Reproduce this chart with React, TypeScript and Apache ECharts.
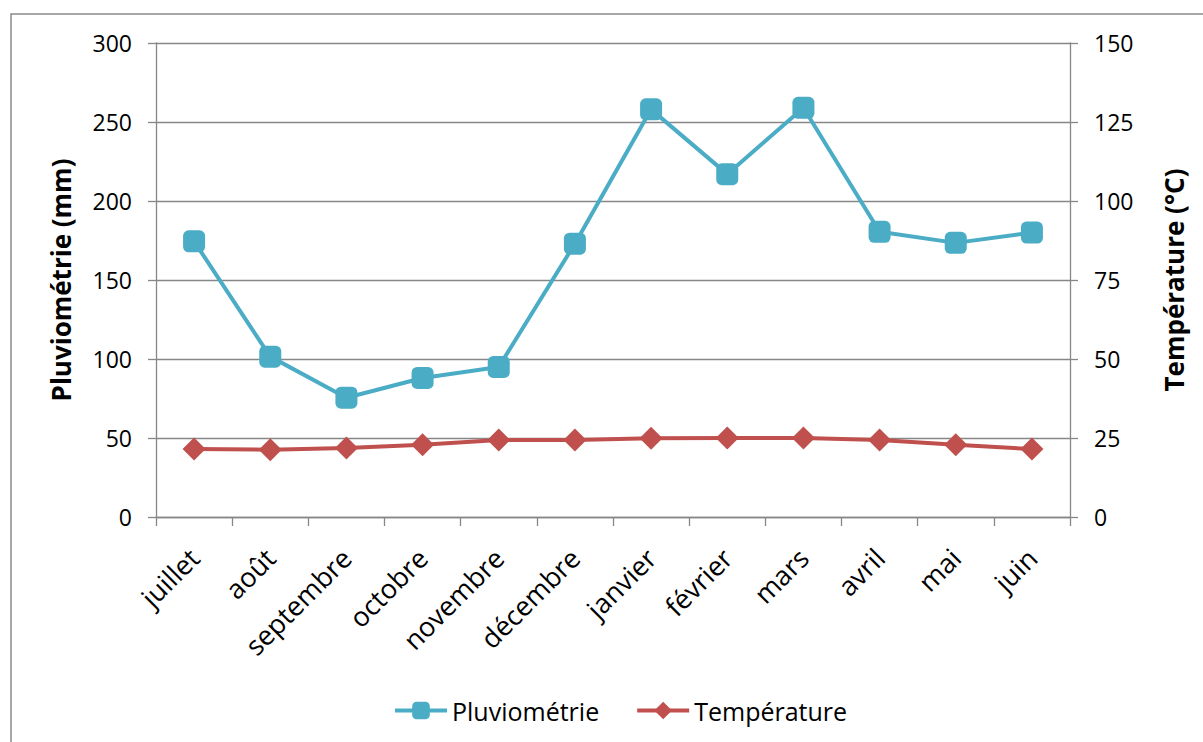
import React, { useEffect, useRef } from "react";
import * as echarts from "echarts";

const months = ["juillet", "août", "septembre", "octobre", "novembre", "décembre", "janvier", "février", "mars", "avril", "mai", "juin"];
const pluviometrie = [174.5, 101.5, 75.5, 88, 95, 173, 258, 217, 259, 180.5, 173.5, 180];
const temperature = [21.5, 21.3, 21.8, 22.9, 24.4, 24.4, 24.9, 25, 25, 24.4, 22.9, 21.5];

const FONT = "'Open Sans', sans-serif";
const GRID = "#878787";

export default function App() {
  const ref = useRef<HTMLDivElement>(null);
  useEffect(() => {
    if (!ref.current) return;
    const chart = echarts.init(ref.current, null, { renderer: "svg" });
    chart.setOption({
      animation: false,
      backgroundColor: "#fff",
      textStyle: { fontFamily: FONT },
      graphic: [
        {
          type: "rect",
          x: 11,
          y: 14,
          shape: { width: 1400, height: 900 },
          style: { fill: "none", stroke: "#8a8a8a", lineWidth: 1.5 },
          silent: true,
          z: -10,
        },
      ],
      grid: { left: 156, right: 133, top: 43, bottom: 225 },
      legend: {
        left: 388,
        top: 693,
        itemWidth: 52,
        itemHeight: 22,
        itemGap: 36,
        lineStyle: { width: 4 },
        textStyle: { fontFamily: FONT, fontSize: 25, color: "#000" },
        data: ["Pluviométrie", "Température"],
      },
      xAxis: {
        type: "category",
        data: months,
        boundaryGap: true,
        axisLine: { show: true, lineStyle: { color: GRID, width: 1.3 } },
        axisTick: { show: true, length: 9, lineStyle: { color: GRID, width: 1.3 } },
        axisLabel: { rotate: 45, margin: 36, fontSize: 27, color: "#000", fontFamily: FONT, interval: 0 },
        splitLine: { show: false },
      },
      yAxis: [
        {
          type: "value",
          min: 0,
          max: 300,
          interval: 50,
          name: "Pluviométrie (mm)",
          nameLocation: "middle",
          nameRotate: 90,
          nameGap: 82,
          nameTextStyle: { fontFamily: FONT, fontSize: 26, fontWeight: "bold", color: "#000" },
          axisLine: { show: true, lineStyle: { color: GRID, width: 1.3 } },
          axisTick: { show: true, length: 8, lineStyle: { color: GRID, width: 1.3 } },
          axisLabel: { margin: 24, fontSize: 23, color: "#000", fontFamily: FONT },
          splitLine: { show: true, lineStyle: { color: GRID, width: 1.3 } },
        },
        {
          type: "value",
          min: 0,
          max: 150,
          interval: 25,
          name: "Température (°C)",
          nameLocation: "middle",
          nameRotate: 90,
          nameGap: 91,
          nameTextStyle: { fontFamily: FONT, fontSize: 26, fontWeight: "bold", color: "#000" },
          axisLine: { show: true, lineStyle: { color: GRID, width: 1.3 } },
          axisTick: { show: true, length: 8, lineStyle: { color: GRID, width: 1.3 } },
          axisLabel: { margin: 24, fontSize: 23, color: "#000", fontFamily: FONT },
          splitLine: { show: false },
        },
      ],
      series: [
        {
          name: "Pluviométrie",
          type: "line",
          yAxisIndex: 0,
          data: pluviometrie,
          symbol: "roundRect",
          symbolSize: 22,
          lineStyle: { color: "#4BACC6", width: 4 },
          itemStyle: { color: "#4BACC6" },
        },
        {
          name: "Température",
          type: "line",
          yAxisIndex: 1,
          data: temperature,
          symbol: "diamond",
          symbolSize: [23, 23],
          lineStyle: { color: "#C0504D", width: 4 },
          itemStyle: { color: "#C0504D" },
        },
      ],
    });
    return () => chart.dispose();
  }, []);
  return <div ref={ref} style={{ position: "absolute", left: 0, top: 0, width: 1203, height: 742 }} />;
}
